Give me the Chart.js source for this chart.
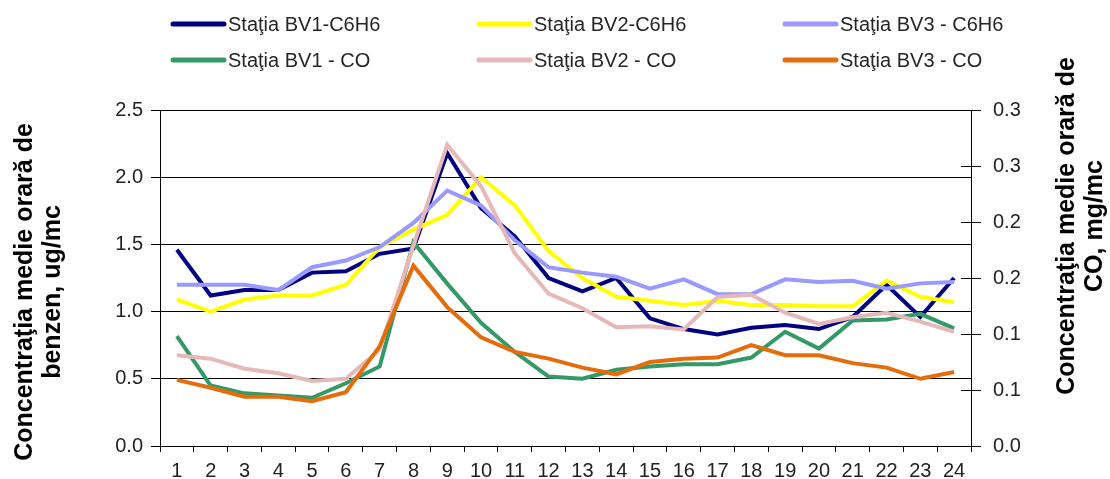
<!DOCTYPE html>
<html>
<head>
<meta charset="utf-8">
<title>Concentraţia medie orară</title>
<script src="https://cdn.jsdelivr.net/npm/chart.js@4"></script>
<style>
  html, body { margin: 0; padding: 0; background: #fff; }
  canvas { display: block; }
</style>
</head>
<body>
<canvas id="myChart" width="1110" height="479"></canvas>
<script>
// hours of the day
const hours = ["1", "2", "3", "4", "5", "6", "7", "8", "9", "10", "11", "12",
  "13", "14", "15", "16", "17", "18", "19", "20", "21", "22", "23", "24"];

// benzen, ug/mc (left axis)
const bv1C6H6 = [1.46, 1.12, 1.16, 1.16, 1.29, 1.30, 1.43, 1.47, 2.18, 1.77, 1.56, 1.25,
  1.15, 1.25, 0.95, 0.87, 0.83, 0.88, 0.90, 0.87, 0.96, 1.20, 0.96, 1.25];
const bv2C6H6 = [1.09, 1.00, 1.09, 1.12, 1.12, 1.20, 1.48, 1.61, 1.72, 2.00, 1.79, 1.45,
  1.25, 1.11, 1.08, 1.05, 1.08, 1.05, 1.05, 1.04, 1.04, 1.23, 1.11, 1.07];
const bv3C6H6 = [1.20, 1.20, 1.20, 1.16, 1.33, 1.38, 1.48, 1.66, 1.90, 1.79, 1.53, 1.33,
  1.29, 1.26, 1.17, 1.24, 1.13, 1.13, 1.24, 1.22, 1.23, 1.17, 1.21, 1.22];

// CO, mg/mc (right axis)
const bv1CO = [0.098, 0.054, 0.047, 0.045, 0.043, 0.056, 0.071, 0.182, 0.145, 0.110, 0.084, 0.062,
  0.060, 0.068, 0.071, 0.073, 0.073, 0.079, 0.102, 0.087, 0.112, 0.113, 0.118, 0.105];
const bv2CO = [0.081, 0.078, 0.069, 0.065, 0.058, 0.060, 0.086, 0.179, 0.269, 0.232, 0.172, 0.136,
  0.123, 0.106, 0.107, 0.104, 0.133, 0.135, 0.119, 0.109, 0.115, 0.119, 0.111, 0.102];
const bv3CO = [0.059, 0.052, 0.044, 0.044, 0.040, 0.048, 0.089, 0.161, 0.124, 0.097, 0.084, 0.078,
  0.070, 0.064, 0.075, 0.078, 0.079, 0.090, 0.081, 0.081, 0.074, 0.070, 0.060, 0.066];

// axis tick labels, as printed on the original
const benzenTicks = ["0.0", "0.5", "1.0", "1.5", "2.0", "2.5"];
const coTicks = ["0.0", "0.1", "0.1", "0.2", "0.2", "0.3", "0.3"];

const leftTitle = ["Concentraţia medie orară de", "benzen, ug/mc"];
const rightTitle = ["Concentraţia medie orară de", "CO, mg/mc"];

const FONT = "'Liberation Sans', Arial, sans-serif";

const series = [
  { label: "Staţia BV1-C6H6", data: bv1C6H6, color: "#000080", axis: "y" },
  { label: "Staţia BV2-C6H6", data: bv2C6H6, color: "#FFFF00", axis: "y" },
  { label: "Staţia BV3 - C6H6", data: bv3C6H6, color: "#9999FF", axis: "y" },
  { label: "Staţia BV1 - CO", data: bv1CO, color: "#339966", axis: "y1" },
  { label: "Staţia BV2 - CO", data: bv2CO, color: "#E6B9B8", axis: "y1" },
  { label: "Staţia BV3 - CO", data: bv3CO, color: "#E46C0A", axis: "y1" },
];

// legend in a 3x2 grid, drawn by hand like the excel one
const legendGrid = {
  id: "legendGrid",
  afterDraw(chart) {
    const ctx = chart.ctx;
    const colX = [171, 477, 783];
    const rowY = [24, 60];
    ctx.save();
    chart.data.datasets.forEach((ds, i) => {
      const x = colX[i % 3];
      const y = rowY[Math.floor(i / 3)];
      ctx.strokeStyle = ds.borderColor;
      ctx.lineWidth = 5;
      ctx.lineCap = "round";
      ctx.beginPath();
      ctx.moveTo(x + 2, y);
      ctx.lineTo(x + 53, y);
      ctx.stroke();
      ctx.fillStyle = "#262626";
      ctx.font = "20px " + FONT;
      ctx.textAlign = "left";
      ctx.textBaseline = "middle";
      ctx.fillText(ds.label, x + 57, y + 1);
    });
    ctx.restore();
  },
};

// rotated titles on both sides (both read bottom to top)
const sideTitles = {
  id: "sideTitles",
  afterDraw(chart) {
    const ctx = chart.ctx;
    const drawTitle = (lines, xs, cy) => {
      lines.forEach((t, i) => {
        ctx.save();
        ctx.translate(xs[i], cy);
        ctx.rotate(-Math.PI / 2);
        ctx.fillStyle = "#000";
        ctx.font = "bold 25px " + FONT;
        ctx.textAlign = "center";
        ctx.textBaseline = "middle";
        ctx.fillText(t, 0, 0);
        ctx.restore();
      });
    };
    drawTitle(leftTitle, [25, 53], 292);
    drawTitle(rightTitle, [1067, 1095], 226);
  },
};

// the right axis ticks cross the axis line
const crossTicks = {
  id: "crossTicks",
  afterDraw(chart) {
    const sc = chart.scales.y1;
    const ctx = chart.ctx;
    ctx.save();
    ctx.strokeStyle = "#000";
    ctx.lineWidth = 1;
    sc.ticks.forEach((t) => {
      const y = Math.round(sc.getPixelForValue(t.value)) + 0.5;
      ctx.beginPath();
      ctx.moveTo(sc.left - 10, y);
      ctx.lineTo(sc.left, y);
      ctx.stroke();
    });
    ctx.restore();
  },
};

const config = {
  type: "line",
  data: {
    labels: hours,
    datasets: series.map((s, i) => ({
      label: s.label,
      data: s.data,
      yAxisID: s.axis,
      borderColor: s.color,
      backgroundColor: s.color,
      borderWidth: 4,
      pointRadius: 0,
      tension: 0,
      fill: false,
      order: series.length - i,
    })),
  },
  options: {
    responsive: false,
    animation: false,
    devicePixelRatio: 1,
    layout: { padding: { top: 110, left: 0, right: 0, bottom: 0 } },
    plugins: {
      legend: { display: false },
      tooltip: { enabled: false },
    },
    scales: {
      x: {
        type: "category",
        offset: true,
        grid: {
          offset: true,
          drawOnChartArea: false,
          color: "#000",
          tickLength: 6,
        },
        border: { color: "#000", width: 1 },
        ticks: {
          color: "#222",
          font: { family: FONT, size: 20 },
          padding: 7,
          maxRotation: 0,
          autoSkip: false,
        },
        afterFit(scale) {
          scale.height = 33;
        },
      },
      y: {
        position: "left",
        min: 0,
        max: 2.5,
        ticks: {
          stepSize: 0.5,
          color: "#222",
          font: { family: FONT, size: 20 },
          padding: 8,
          callback: (v, i) => benzenTicks[i],
        },
        grid: { color: "#000", lineWidth: 1, tickLength: 9 },
        border: { color: "#000", width: 1 },
        afterFit(scale) {
          scale.width = 160;
        },
      },
      y1: {
        position: "right",
        min: 0,
        max: 0.3,
        ticks: {
          stepSize: 0.05,
          color: "#222",
          font: { family: FONT, size: 20 },
          padding: 12,
          callback: (v, i) => coTicks[i],
        },
        grid: { drawOnChartArea: false, color: "#000", tickLength: 10 },
        border: { color: "#000", width: 1 },
        afterFit(scale) {
          scale.width = 139;
        },
      },
    },
  },
  plugins: [legendGrid, sideTitles, crossTicks],
};

const chart = new Chart(document.getElementById("myChart"), config);
</script>
</body>
</html>
